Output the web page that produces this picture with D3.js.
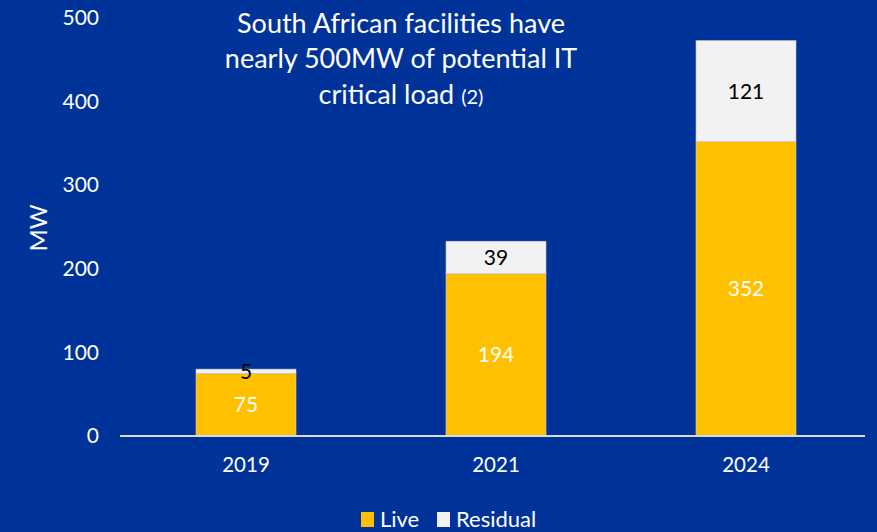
<!DOCTYPE html>
<html>
<head>
<meta charset="utf-8">
<script src="https://cdn.jsdelivr.net/npm/d3@7"></script>
<style>
  html, body { margin: 0; padding: 0; background: #003399; }
  svg { display: block; font-family: Lato, "Open Sans", sans-serif; }
</style>
</head>
<body>
<svg id="chart" width="877" height="532"></svg>
<script>
// data
const years = ["2019", "2021", "2024"];
const live = [75, 194, 352];
const residual = [5, 39, 121];
const yTicks = [0, 100, 200, 300, 400, 500];
const seriesNames = ["Live", "Residual"];
const seriesColors = ["#FFC000", "#F2F2F2"];
const labelColors = ["#FFFFFF", "#000000"];

const WIDTH = 877;
const HEIGHT = 532;
const svg = d3.select("#chart");

const rows = years.map((y, i) => ({ year: y, Live: live[i], Residual: residual[i] }));
const stacked = d3.stack().keys(seriesNames)(rows);

const xScale = d3.scaleBand()
  .domain(years)
  .range([121, 871])
  .paddingInner(0.6)
  .paddingOuter(0.3);

const yScale = d3.scaleLinear()
  .domain([0, 500])
  .range([436, 18]);

// y axis (labels only)
const yAxis = svg.append("g")
  .attr("transform", "translate(99,0)")
  .call(d3.axisLeft(yScale).tickValues(yTicks).tickSize(0).tickPadding(0));
yAxis.select(".domain").remove();
yAxis.selectAll("text")
  .attr("fill", "#fff")
  .attr("font-size", "21px")
  .attr("font-family", "Lato, sans-serif");

svg.append("text")
  .attr("transform", "translate(47,228) rotate(-90)")
  .attr("text-anchor", "middle")
  .attr("fill", "#fff")
  .attr("font-size", "24px")
  .text("MW");

// bars
const layers = svg.selectAll(".layer")
  .data(stacked)
  .join("g")
    .attr("class", "layer")
    .attr("fill", (d, i) => seriesColors[i]);

layers.selectAll("rect")
  .data(d => d)
  .join("rect")
    .attr("x", d => xScale(d.data.year))
    .attr("y", d => yScale(d[1]))
    .attr("width", xScale.bandwidth())
    .attr("height", d => yScale(d[0]) - yScale(d[1]))
    .attr("stroke", "#c8c8c8")
    .attr("stroke-width", 0.6);

// value labels
stacked.forEach((layer, i) => {
  svg.append("g").selectAll("text")
    .data(layer)
    .join("text")
      .attr("x", d => xScale(d.data.year) + xScale.bandwidth() / 2)
      .attr("y", d => (yScale(d[0]) + yScale(d[1])) / 2)
      .attr("dy", "0.36em")
      .attr("text-anchor", "middle")
      .attr("fill", labelColors[i])
      .attr("font-size", "21px")
      .text(d => d[1] - d[0]);
});

// x axis
const xAxis = svg.append("g")
  .attr("transform", "translate(0,436)")
  .call(d3.axisBottom(xScale).tickSize(0).tickPadding(21));
xAxis.select(".domain").remove();
xAxis.selectAll("text")
  .attr("fill", "#fff")
  .attr("font-size", "20.5px")
  .attr("font-family", "Lato, sans-serif");

svg.append("line")
  .attr("x1", 120).attr("x2", 865)
  .attr("y1", 436).attr("y2", 436)
  .attr("stroke", "#d9d9d9")
  .attr("stroke-width", 2);

// title
const title = svg.append("text")
  .attr("text-anchor", "middle")
  .attr("fill", "#fff")
  .attr("font-size", "27px");
title.append("tspan").attr("x", 401).attr("y", 33).text("South African facilities have");
title.append("tspan").attr("x", 401).attr("y", 68).text("nearly 500MW of potential IT");
const l3 = title.append("tspan").attr("x", 401).attr("y", 104);
l3.append("tspan").text("critical load ");
l3.append("tspan").attr("font-size", "20px").text("(2)");

// legend
const legend = svg.append("g").attr("transform", "translate(361,512)");
const items = [{ x: 0, tx: 19 }, { x: 76, tx: 95 }];
items.forEach((it, i) => {
  legend.append("rect")
    .attr("x", it.x).attr("y", 0)
    .attr("width", 13).attr("height", 15)
    .attr("fill", seriesColors[i]);
  legend.append("text")
    .attr("x", it.tx).attr("y", 15)
    .attr("fill", "#fff")
    .attr("font-size", "22px")
    .text(seriesNames[i]);
});
</script>
</body>
</html>
